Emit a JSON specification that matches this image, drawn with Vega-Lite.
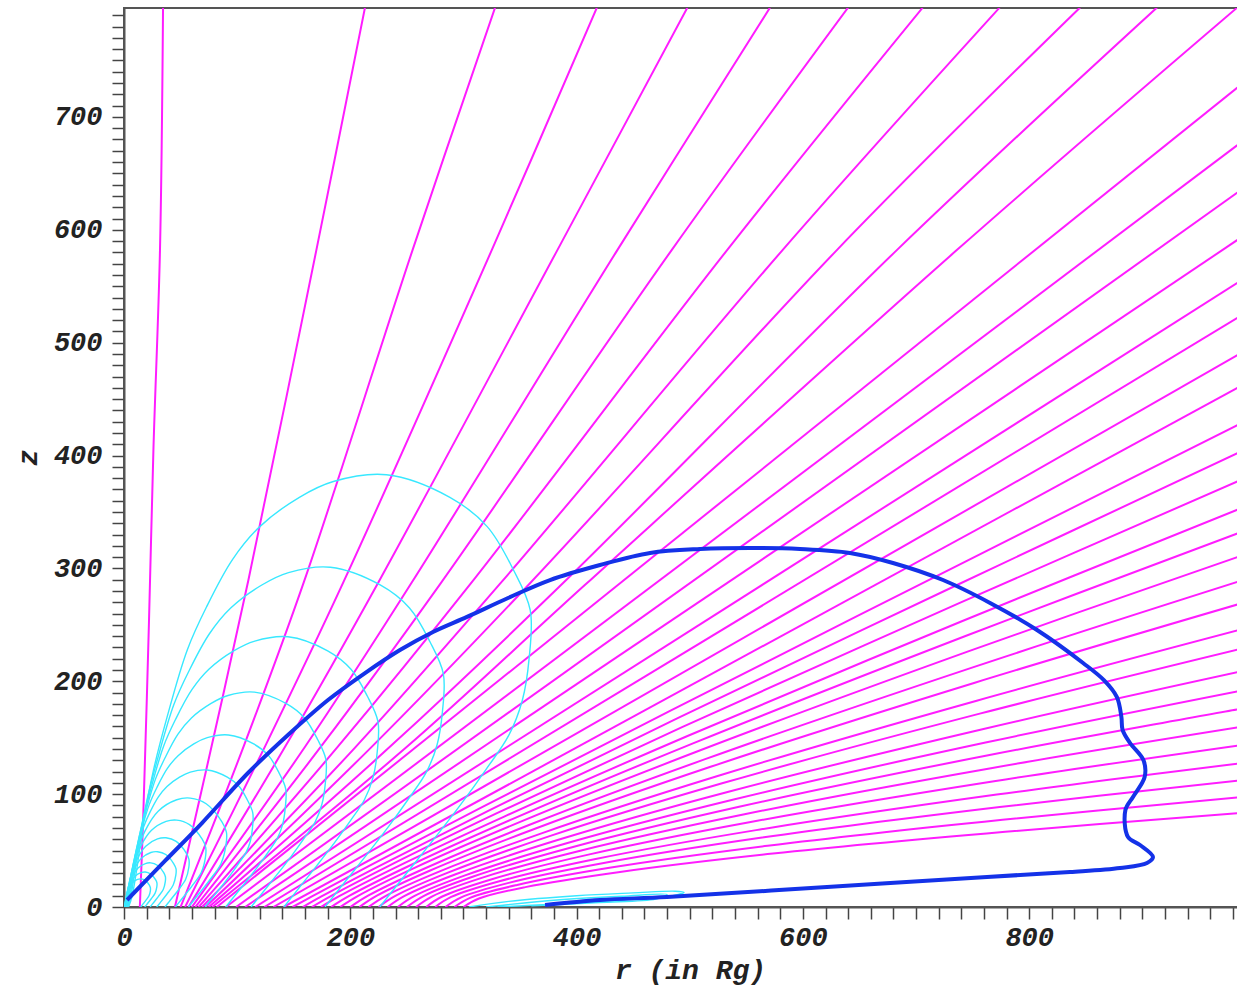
{
"$schema": "https://vega.github.io/schema/vega-lite/v6.json",
"autosize": {"type": "none"},
"padding": {"left": 124, "top": 8, "right": 0, "bottom": 79},
"width": 1115,
"height": 899,
"background": "white",
"config": {
  "view": {"stroke": "#555555", "strokeWidth": 2},
  "axis": {"domainColor": "#555555", "domainWidth": 2, "tickColor": "#444444", "tickWidth": 1.5, "grid": false,
    "labelFont": "Liberation Mono", "labelFontSize": 27, "labelFontWeight": "bold", "labelFontStyle": "italic", "labelColor": "#222222",
    "titleFont": "Liberation Mono", "titleFontSize": 28, "titleFontWeight": "bold", "titleFontStyle": "italic", "titleColor": "#222222"}
},
"datasets": {
"m": [
{"g":1,"i":0,"r":14,"z":0},{"g":1,"i":1,"r":17,"z":80},{"g":1,"i":2,"r":22,"z":250},{"g":1,"i":3,"r":26,"z":405},{"g":1,"i":4,"r":31.8,"z":582},{"g":1,"i":5,"r":34.5,"z":797},
{"g":2,"i":0,"r":45,"z":0},{"g":2,"i":1,"r":78,"z":145},{"g":2,"i":2,"r":110,"z":290},{"g":2,"i":3,"r":170,"z":582},{"g":2,"i":4,"r":213,"z":797},
{"g":3,"i":0,"r":50,"z":0},{"g":3,"i":1,"r":106,"z":143},{"g":3,"i":2,"r":159,"z":288},{"g":3,"i":3,"r":255,"z":582},{"g":3,"i":4,"r":328,"z":797},
{"g":4,"i":0,"r":54,"z":0},{"g":4,"i":1,"r":125,"z":143},{"g":4,"i":2,"r":194,"z":288},{"g":4,"i":3,"r":325,"z":582},{"g":4,"i":4,"r":418,"z":797},
{"g":5,"i":0,"r":57,"z":0},{"g":5,"i":1,"r":143,"z":143},{"g":5,"i":2,"r":225,"z":288},{"g":5,"i":3,"r":383,"z":582},{"g":5,"i":4,"r":498,"z":797},
{"g":6,"i":0,"r":60,"z":0},{"g":6,"i":1,"r":160,"z":142},{"g":6,"i":2,"r":254,"z":287},{"g":6,"i":3,"r":436,"z":582},{"g":6,"i":4,"r":571,"z":797},
{"g":7,"i":0,"r":63,"z":0},{"g":7,"i":1,"r":174,"z":142},{"g":7,"i":2,"r":280,"z":287},{"g":7,"i":3,"r":484,"z":582},{"g":7,"i":4,"r":640,"z":797},
{"g":8,"i":0,"r":66,"z":0},{"g":8,"i":1,"r":189,"z":142},{"g":8,"i":2,"r":306,"z":286},{"g":8,"i":3,"r":533,"z":582},{"g":8,"i":4,"r":706,"z":797},
{"g":9,"i":0,"r":69,"z":0},{"g":9,"i":1,"r":204,"z":141},{"g":9,"i":2,"r":332,"z":286},{"g":9,"i":3,"r":582,"z":582},{"g":9,"i":4,"r":774,"z":797},
{"g":10,"i":0,"r":72,"z":0},{"g":10,"i":1,"r":218,"z":141},{"g":10,"i":2,"r":358,"z":286},{"g":10,"i":3,"r":630,"z":582},{"g":10,"i":4,"r":845,"z":797},
{"g":11,"i":0,"r":75,"z":0},{"g":11,"i":1,"r":234,"z":141},{"g":11,"i":2,"r":386,"z":285},{"g":11,"i":3,"r":683,"z":582},{"g":11,"i":4,"r":913,"z":797},
{"g":12,"i":0,"r":78,"z":0},{"g":12,"i":1,"r":249,"z":141},{"g":12,"i":2,"r":407,"z":285},{"g":12,"i":3,"r":736,"z":582},{"g":12,"i":4,"r":984,"z":797},
{"g":13,"i":0,"r":82,"z":0},{"g":13,"i":1,"r":984,"z":726},
{"g":14,"i":0,"r":90,"z":0},{"g":14,"i":1,"r":984,"z":675},
{"g":15,"i":0,"r":99,"z":0},{"g":15,"i":1,"r":984,"z":633},
{"g":16,"i":0,"r":107,"z":0},{"g":16,"i":1,"r":984,"z":591},
{"g":17,"i":0,"r":116,"z":0},{"g":17,"i":1,"r":984,"z":553},
{"g":18,"i":0,"r":124,"z":0},{"g":18,"i":1,"r":984,"z":522},
{"g":19,"i":0,"r":132,"z":0},{"g":19,"i":1,"r":984,"z":489},
{"g":20,"i":0,"r":141,"z":0},{"g":20,"i":1,"r":984,"z":460},
{"g":21,"i":0,"r":149,"z":0},{"g":21,"i":1,"r":165.7,"z":9.2},{"g":21,"i":2,"r":215.8,"z":36},{"g":21,"i":3,"r":316,"z":88.2},{"g":21,"i":4,"r":483,"z":174},{"g":21,"i":5,"r":733.5,"z":300.9},{"g":21,"i":6,"r":984,"z":427},
{"g":22,"i":0,"r":158,"z":0},{"g":22,"i":1,"r":174.5,"z":9.4},{"g":22,"i":2,"r":224.1,"z":35.6},{"g":22,"i":3,"r":323.2,"z":85.8},{"g":22,"i":4,"r":488.4,"z":166.9},{"g":22,"i":5,"r":736.2,"z":285.3},{"g":22,"i":6,"r":984,"z":402},
{"g":23,"i":0,"r":166,"z":0},{"g":23,"i":1,"r":182.4,"z":9.5},{"g":23,"i":2,"r":231.4,"z":35.1},{"g":23,"i":3,"r":329.6,"z":83.1},{"g":23,"i":4,"r":493.2,"z":159.4},{"g":23,"i":5,"r":738.6,"z":269.4},{"g":23,"i":6,"r":984,"z":377},
{"g":24,"i":0,"r":174,"z":0},{"g":24,"i":1,"r":190.2,"z":9.6},{"g":24,"i":2,"r":238.8,"z":34.5},{"g":24,"i":3,"r":336,"z":80.1},{"g":24,"i":4,"r":498,"z":151.5},{"g":24,"i":5,"r":741,"z":253.4},{"g":24,"i":6,"r":984,"z":352},
{"g":25,"i":0,"r":183,"z":0},{"g":25,"i":1,"r":199,"z":9.8},{"g":25,"i":2,"r":247.1,"z":34.1},{"g":25,"i":3,"r":343.2,"z":77.8},{"g":25,"i":4,"r":503.4,"z":145.2},{"g":25,"i":5,"r":743.7,"z":240.1},{"g":25,"i":6,"r":984,"z":331},
{"g":26,"i":0,"r":191,"z":0},{"g":26,"i":1,"r":206.9,"z":9.9},{"g":26,"i":2,"r":254.4,"z":33.6},{"g":26,"i":3,"r":349.6,"z":75.2},{"g":26,"i":4,"r":508.2,"z":138.4},{"g":26,"i":5,"r":746.1,"z":226.5},{"g":26,"i":6,"r":984,"z":310},
{"g":27,"i":0,"r":200,"z":0},{"g":27,"i":1,"r":215.7,"z":10},{"g":27,"i":2,"r":262.7,"z":32.8},{"g":27,"i":3,"r":356.8,"z":72.2},{"g":27,"i":4,"r":513.6,"z":131},{"g":27,"i":5,"r":748.8,"z":211.9},{"g":27,"i":6,"r":984,"z":288},
{"g":28,"i":0,"r":208,"z":0},{"g":28,"i":1,"r":223.5,"z":10},{"g":28,"i":2,"r":270.1,"z":32.1},{"g":28,"i":3,"r":363.2,"z":69.3},{"g":28,"i":4,"r":518.4,"z":124.2},{"g":28,"i":5,"r":751.2,"z":198.5},{"g":28,"i":6,"r":984,"z":268},
{"g":29,"i":0,"r":216,"z":0},{"g":29,"i":1,"r":231.4,"z":9.9},{"g":29,"i":2,"r":277.4,"z":30.9},{"g":29,"i":3,"r":369.6,"z":65.5},{"g":29,"i":4,"r":523.2,"z":115.6},{"g":29,"i":5,"r":753.6,"z":182.8},{"g":29,"i":6,"r":984,"z":245},
{"g":30,"i":0,"r":225,"z":0},{"g":30,"i":1,"r":240.2,"z":10},{"g":30,"i":2,"r":285.7,"z":30.2},{"g":30,"i":3,"r":376.8,"z":63},{"g":30,"i":4,"r":528.6,"z":109.6},{"g":30,"i":5,"r":756.3,"z":171.3},{"g":30,"i":6,"r":984,"z":228},
{"g":31,"i":0,"r":233,"z":0},{"g":31,"i":1,"r":248,"z":9.8},{"g":31,"i":2,"r":293.1,"z":29},{"g":31,"i":3,"r":383.2,"z":59.3},{"g":31,"i":4,"r":533.4,"z":101.9},{"g":31,"i":5,"r":758.7,"z":157.5},{"g":31,"i":6,"r":984,"z":208},
{"g":32,"i":0,"r":242,"z":0},{"g":32,"i":1,"r":256.8,"z":9.8},{"g":32,"i":2,"r":301.4,"z":28},{"g":32,"i":3,"r":390.4,"z":56.2},{"g":32,"i":4,"r":538.8,"z":95.2},{"g":32,"i":5,"r":761.4,"z":145.7},{"g":32,"i":6,"r":984,"z":191},
{"g":33,"i":0,"r":250,"z":0},{"g":33,"i":1,"r":264.7,"z":9.7},{"g":33,"i":2,"r":308.7,"z":27},{"g":33,"i":3,"r":396.8,"z":53.2},{"g":33,"i":4,"r":543.6,"z":88.8},{"g":33,"i":5,"r":763.8,"z":134.4},{"g":33,"i":6,"r":984,"z":175},
{"g":34,"i":0,"r":258,"z":0},{"g":34,"i":1,"r":272.5,"z":9.5},{"g":34,"i":2,"r":316.1,"z":25.8},{"g":34,"i":3,"r":403.2,"z":49.9},{"g":34,"i":4,"r":548.4,"z":82.2},{"g":34,"i":5,"r":766.2,"z":123},{"g":34,"i":6,"r":984,"z":159},
{"g":35,"i":0,"r":267,"z":0},{"g":35,"i":1,"r":281.3,"z":9.3},{"g":35,"i":2,"r":324.4,"z":24.4},{"g":35,"i":3,"r":410.4,"z":46.4},{"g":35,"i":4,"r":553.8,"z":75.3},{"g":35,"i":5,"r":768.9,"z":111.4},{"g":35,"i":6,"r":984,"z":143},
{"g":36,"i":0,"r":275,"z":0},{"g":36,"i":1,"r":289.2,"z":8.9},{"g":36,"i":2,"r":331.7,"z":22.8},{"g":36,"i":3,"r":416.8,"z":42.5},{"g":36,"i":4,"r":558.6,"z":68.1},{"g":36,"i":5,"r":771.3,"z":99.6},{"g":36,"i":6,"r":984,"z":127},
{"g":37,"i":0,"r":284,"z":0},{"g":37,"i":1,"r":298,"z":8.6},{"g":37,"i":2,"r":340,"z":21.4},{"g":37,"i":3,"r":424,"z":39},{"g":37,"i":4,"r":564,"z":61.5},{"g":37,"i":5,"r":774,"z":88.6},{"g":37,"i":6,"r":984,"z":112},
{"g":38,"i":0,"r":292,"z":0},{"g":38,"i":1,"r":305.8,"z":8.1},{"g":38,"i":2,"r":347.4,"z":19.5},{"g":38,"i":3,"r":430.4,"z":34.9},{"g":38,"i":4,"r":568.8,"z":54.2},{"g":38,"i":5,"r":776.4,"z":77.3},{"g":38,"i":6,"r":984,"z":97},
{"g":39,"i":0,"r":300,"z":0},{"g":39,"i":1,"r":313.7,"z":7.5},{"g":39,"i":2,"r":354.7,"z":17.6},{"g":39,"i":3,"r":436.8,"z":30.8},{"g":39,"i":4,"r":573.6,"z":47.3},{"g":39,"i":5,"r":778.8,"z":66.6},{"g":39,"i":6,"r":984,"z":83}
],
"c": [
{"g":1,"i":0,"r":4,"z":0},{"g":1,"i":1,"r":7,"z":9},{"g":1,"i":2,"r":11.5,"z":35},{"g":1,"i":3,"r":17,"z":74},{"g":1,"i":4,"r":26,"z":121},{"g":1,"i":5,"r":38,"z":168},{"g":1,"i":6,"r":56,"z":228},{"g":1,"i":7,"r":73,"z":266},{"g":1,"i":8,"r":96,"z":308},{"g":1,"i":9,"r":120,"z":337},{"g":1,"i":10,"r":155,"z":363},{"g":1,"i":11,"r":185,"z":377},{"g":1,"i":12,"r":232,"z":383},{"g":1,"i":13,"r":288,"z":363},{"g":1,"i":14,"r":321,"z":337},{"g":1,"i":15,"r":344,"z":299},{"g":1,"i":16,"r":359,"z":263},{"g":1,"i":17,"r":358,"z":220},{"g":1,"i":18,"r":352,"z":183},{"g":1,"i":19,"r":340,"z":152},{"g":1,"i":20,"r":320,"z":122},{"g":1,"i":21,"r":297,"z":90},{"g":1,"i":22,"r":273,"z":59},{"g":1,"i":23,"r":249,"z":29},{"g":1,"i":24,"r":226,"z":0},
{"g":2,"i":0,"r":3.1,"z":0},{"g":2,"i":1,"r":5.5,"z":7.1},{"g":2,"i":2,"r":9,"z":27.5},{"g":2,"i":3,"r":13.4,"z":58.2},{"g":2,"i":4,"r":20.4,"z":95.1},{"g":2,"i":5,"r":29.9,"z":132},{"g":2,"i":6,"r":44,"z":179.2},{"g":2,"i":7,"r":57.4,"z":209.1},{"g":2,"i":8,"r":75.5,"z":242.1},{"g":2,"i":9,"r":94.3,"z":264.9},{"g":2,"i":10,"r":121.8,"z":285.3},{"g":2,"i":11,"r":145.4,"z":296.3},{"g":2,"i":12,"r":182.4,"z":301},{"g":2,"i":13,"r":226.4,"z":285.3},{"g":2,"i":14,"r":252.3,"z":264.9},{"g":2,"i":15,"r":270.4,"z":235},{"g":2,"i":16,"r":282.2,"z":206.7},{"g":2,"i":17,"r":281.4,"z":172.9},{"g":2,"i":18,"r":276.7,"z":143.8},{"g":2,"i":19,"r":267.2,"z":119.5},{"g":2,"i":20,"r":251.5,"z":95.9},{"g":2,"i":21,"r":233.4,"z":70.7},{"g":2,"i":22,"r":214.6,"z":46.4},{"g":2,"i":23,"r":195.7,"z":22.8},{"g":2,"i":24,"r":177.6,"z":0},
{"g":3,"i":0,"r":2.5,"z":0},{"g":3,"i":1,"r":4.4,"z":5.6},{"g":3,"i":2,"r":7.2,"z":21.9},{"g":3,"i":3,"r":10.6,"z":46.3},{"g":3,"i":4,"r":16.3,"z":75.6},{"g":3,"i":5,"r":23.8,"z":105},{"g":3,"i":6,"r":35,"z":142.5},{"g":3,"i":7,"r":45.6,"z":166.3},{"g":3,"i":8,"r":60,"z":192.5},{"g":3,"i":9,"r":75,"z":210.6},{"g":3,"i":10,"r":96.9,"z":226.9},{"g":3,"i":11,"r":115.6,"z":235.6},{"g":3,"i":12,"r":145,"z":239.4},{"g":3,"i":13,"r":180,"z":226.9},{"g":3,"i":14,"r":200.6,"z":210.6},{"g":3,"i":15,"r":215,"z":186.9},{"g":3,"i":16,"r":224.4,"z":164.4},{"g":3,"i":17,"r":223.8,"z":137.5},{"g":3,"i":18,"r":220,"z":114.4},{"g":3,"i":19,"r":212.5,"z":95},{"g":3,"i":20,"r":200,"z":76.3},{"g":3,"i":21,"r":185.6,"z":56.3},{"g":3,"i":22,"r":170.6,"z":36.9},{"g":3,"i":23,"r":155.6,"z":18.1},{"g":3,"i":24,"r":141.3,"z":0},
{"g":4,"i":0,"r":2,"z":0},{"g":4,"i":1,"r":3.5,"z":4.5},{"g":4,"i":2,"r":5.7,"z":17.4},{"g":4,"i":3,"r":8.4,"z":36.8},{"g":4,"i":4,"r":12.9,"z":60.1},{"g":4,"i":5,"r":18.9,"z":83.5},{"g":4,"i":6,"r":27.8,"z":113.3},{"g":4,"i":7,"r":36.3,"z":132.2},{"g":4,"i":8,"r":47.7,"z":153.1},{"g":4,"i":9,"r":59.6,"z":167.5},{"g":4,"i":10,"r":77,"z":180.4},{"g":4,"i":11,"r":91.9,"z":187.4},{"g":4,"i":12,"r":115.3,"z":190.4},{"g":4,"i":13,"r":143.1,"z":180.4},{"g":4,"i":14,"r":159.5,"z":167.5},{"g":4,"i":15,"r":171,"z":148.6},{"g":4,"i":16,"r":178.4,"z":130.7},{"g":4,"i":17,"r":177.9,"z":109.3},{"g":4,"i":18,"r":174.9,"z":91},{"g":4,"i":19,"r":169,"z":75.5},{"g":4,"i":20,"r":159,"z":60.6},{"g":4,"i":21,"r":147.6,"z":44.7},{"g":4,"i":22,"r":135.7,"z":29.3},{"g":4,"i":23,"r":123.8,"z":14.4},{"g":4,"i":24,"r":112.3,"z":0},
{"g":5,"i":0,"r":1.6,"z":0},{"g":5,"i":1,"r":2.8,"z":3.6},{"g":5,"i":2,"r":4.6,"z":13.9},{"g":5,"i":3,"r":6.8,"z":29.5},{"g":5,"i":4,"r":10.3,"z":48.2},{"g":5,"i":5,"r":15.1,"z":66.9},{"g":5,"i":6,"r":22.3,"z":90.7},{"g":5,"i":7,"r":29.1,"z":105.9},{"g":5,"i":8,"r":38.2,"z":122.6},{"g":5,"i":9,"r":47.8,"z":134.1},{"g":5,"i":10,"r":61.7,"z":144.5},{"g":5,"i":11,"r":73.6,"z":150},{"g":5,"i":12,"r":92.3,"z":152.4},{"g":5,"i":13,"r":114.6,"z":144.5},{"g":5,"i":14,"r":127.8,"z":134.1},{"g":5,"i":15,"r":136.9,"z":119},{"g":5,"i":16,"r":142.9,"z":104.7},{"g":5,"i":17,"r":142.5,"z":87.6},{"g":5,"i":18,"r":140.1,"z":72.8},{"g":5,"i":19,"r":135.3,"z":60.5},{"g":5,"i":20,"r":127.4,"z":48.6},{"g":5,"i":21,"r":118.2,"z":35.8},{"g":5,"i":22,"r":108.7,"z":23.5},{"g":5,"i":23,"r":99.1,"z":11.5},{"g":5,"i":24,"r":89.9,"z":0},
{"g":6,"i":0,"r":1.3,"z":0},{"g":6,"i":1,"r":2.2,"z":2.9},{"g":6,"i":2,"r":3.6,"z":11.1},{"g":6,"i":3,"r":5.4,"z":23.5},{"g":6,"i":4,"r":8.2,"z":38.4},{"g":6,"i":5,"r":12,"z":53.3},{"g":6,"i":6,"r":17.8,"z":72.3},{"g":6,"i":7,"r":23.1,"z":84.3},{"g":6,"i":8,"r":30.4,"z":97.6},{"g":6,"i":9,"r":38,"z":106.8},{"g":6,"i":10,"r":49.1,"z":115.1},{"g":6,"i":11,"r":58.6,"z":119.5},{"g":6,"i":12,"r":73.5,"z":121.4},{"g":6,"i":13,"r":91.3,"z":115.1},{"g":6,"i":14,"r":101.8,"z":106.8},{"g":6,"i":15,"r":109,"z":94.8},{"g":6,"i":16,"r":113.8,"z":83.4},{"g":6,"i":17,"r":113.5,"z":69.7},{"g":6,"i":18,"r":111.6,"z":58},{"g":6,"i":19,"r":107.8,"z":48.2},{"g":6,"i":20,"r":101.4,"z":38.7},{"g":6,"i":21,"r":94.1,"z":28.5},{"g":6,"i":22,"r":86.5,"z":18.7},{"g":6,"i":23,"r":78.9,"z":9.2},{"g":6,"i":24,"r":71.6,"z":0},
{"g":7,"i":0,"r":1,"z":0},{"g":7,"i":1,"r":2.9,"z":8.8},{"g":7,"i":2,"r":6.6,"z":30.5},{"g":7,"i":3,"r":9.6,"z":42.3},{"g":7,"i":4,"r":18.4,"z":67},{"g":7,"i":5,"r":30.2,"z":84.9},{"g":7,"i":6,"r":46.6,"z":95},{"g":7,"i":7,"r":58.5,"z":96.5},{"g":7,"i":8,"r":72.6,"z":91.5},{"g":7,"i":9,"r":86.7,"z":75.3},{"g":7,"i":10,"r":90.5,"z":66.3},{"g":7,"i":11,"r":90.2,"z":55.4},{"g":7,"i":12,"r":85.7,"z":38.3},{"g":7,"i":13,"r":74.8,"z":22.7},{"g":7,"i":14,"r":62.7,"z":7.3},{"g":7,"i":15,"r":57,"z":0},
{"g":8,"i":0,"r":0.8,"z":0},{"g":8,"i":1,"r":2.3,"z":7},{"g":8,"i":2,"r":5.2,"z":24.3},{"g":8,"i":3,"r":7.6,"z":33.8},{"g":8,"i":4,"r":14.7,"z":53.5},{"g":8,"i":5,"r":24.1,"z":67.7},{"g":8,"i":6,"r":37.2,"z":75.8},{"g":8,"i":7,"r":46.6,"z":77},{"g":8,"i":8,"r":57.9,"z":73},{"g":8,"i":9,"r":69.1,"z":60.1},{"g":8,"i":10,"r":72.2,"z":52.9},{"g":8,"i":11,"r":72,"z":44.2},{"g":8,"i":12,"r":68.3,"z":30.6},{"g":8,"i":13,"r":59.7,"z":18.1},{"g":8,"i":14,"r":50,"z":5.8},{"g":8,"i":15,"r":45.4,"z":0},
{"g":9,"i":0,"r":0.6,"z":0},{"g":9,"i":1,"r":1.8,"z":5.6},{"g":9,"i":2,"r":4.2,"z":19.4},{"g":9,"i":3,"r":6.1,"z":26.9},{"g":9,"i":4,"r":11.7,"z":42.6},{"g":9,"i":5,"r":19.2,"z":53.9},{"g":9,"i":6,"r":29.6,"z":60.3},{"g":9,"i":7,"r":37.1,"z":61.3},{"g":9,"i":8,"r":46.1,"z":58.1},{"g":9,"i":9,"r":55,"z":47.8},{"g":9,"i":10,"r":57.4,"z":42.1},{"g":9,"i":11,"r":57.3,"z":35.2},{"g":9,"i":12,"r":54.4,"z":24.3},{"g":9,"i":13,"r":47.5,"z":14.4},{"g":9,"i":14,"r":39.8,"z":4.6},{"g":9,"i":15,"r":36.2,"z":0},
{"g":10,"i":0,"r":0.5,"z":0},{"g":10,"i":1,"r":1.5,"z":4.5},{"g":10,"i":2,"r":3.3,"z":15.5},{"g":10,"i":3,"r":4.9,"z":21.5},{"g":10,"i":4,"r":9.3,"z":34},{"g":10,"i":5,"r":15.4,"z":43.1},{"g":10,"i":6,"r":23.7,"z":48.3},{"g":10,"i":7,"r":29.7,"z":49},{"g":10,"i":8,"r":36.9,"z":46.5},{"g":10,"i":9,"r":44,"z":38.3},{"g":10,"i":10,"r":46,"z":33.7},{"g":10,"i":11,"r":45.8,"z":28.2},{"g":10,"i":12,"r":43.5,"z":19.5},{"g":10,"i":13,"r":38,"z":11.5},{"g":10,"i":14,"r":31.9,"z":3.7},{"g":10,"i":15,"r":28.9,"z":0},
{"g":11,"i":0,"r":0.4,"z":0},{"g":11,"i":1,"r":1.2,"z":3.6},{"g":11,"i":2,"r":2.7,"z":12.3},{"g":11,"i":3,"r":3.9,"z":17.1},{"g":11,"i":4,"r":7.4,"z":27.1},{"g":11,"i":5,"r":12.2,"z":34.4},{"g":11,"i":6,"r":18.9,"z":38.5},{"g":11,"i":7,"r":23.7,"z":39.1},{"g":11,"i":8,"r":29.4,"z":37},{"g":11,"i":9,"r":35.1,"z":30.5},{"g":11,"i":10,"r":36.6,"z":26.8},{"g":11,"i":11,"r":36.5,"z":22.4},{"g":11,"i":12,"r":34.7,"z":15.5},{"g":11,"i":13,"r":30.3,"z":9.2},{"g":11,"i":14,"r":25.4,"z":3},{"g":11,"i":15,"r":23.1,"z":0},
{"g":12,"i":0,"r":0.3,"z":0},{"g":12,"i":1,"r":0.9,"z":2.8},{"g":12,"i":2,"r":2.1,"z":9.8},{"g":12,"i":3,"r":3.1,"z":13.6},{"g":12,"i":4,"r":5.9,"z":21.5},{"g":12,"i":5,"r":9.7,"z":27.3},{"g":12,"i":6,"r":15,"z":30.5},{"g":12,"i":7,"r":18.8,"z":31},{"g":12,"i":8,"r":23.3,"z":29.4},{"g":12,"i":9,"r":27.9,"z":24.2},{"g":12,"i":10,"r":29.1,"z":21.3},{"g":12,"i":11,"r":29,"z":17.8},{"g":12,"i":12,"r":27.5,"z":12.3},{"g":12,"i":13,"r":24.1,"z":7.3},{"g":12,"i":14,"r":20.2,"z":2.3},{"g":12,"i":15,"r":18.3,"z":0},
{"g":13,"i":0,"r":0.3,"z":0},{"g":13,"i":1,"r":0.7,"z":2.3},{"g":13,"i":2,"r":1.7,"z":7.9},{"g":13,"i":3,"r":2.5,"z":10.9},{"g":13,"i":4,"r":4.7,"z":17.3},{"g":13,"i":5,"r":7.8,"z":21.9},{"g":13,"i":6,"r":12,"z":24.5},{"g":13,"i":7,"r":15.1,"z":24.9},{"g":13,"i":8,"r":18.7,"z":23.6},{"g":13,"i":9,"r":22.4,"z":19.4},{"g":13,"i":10,"r":23.3,"z":17.1},{"g":13,"i":11,"r":23.3,"z":14.3},{"g":13,"i":12,"r":22.1,"z":9.9},{"g":13,"i":13,"r":19.3,"z":5.9},{"g":13,"i":14,"r":16.2,"z":1.9},{"g":13,"i":15,"r":14.7,"z":0},
{"g":21,"i":0,"r":305,"z":0},{"g":21,"i":1,"r":340,"z":5},{"g":21,"i":2,"r":400,"z":10},{"g":21,"i":3,"r":450,"z":12.5},{"g":21,"i":4,"r":487,"z":14},{"g":21,"i":5,"r":495,"z":13},{"g":21,"i":6,"r":480,"z":9},{"g":21,"i":7,"r":440,"z":6},{"g":21,"i":8,"r":400,"z":3.5},{"g":21,"i":9,"r":360,"z":1.5},{"g":21,"i":10,"r":330,"z":0},
{"g":22,"i":0,"r":320,"z":0},{"g":22,"i":1,"r":380,"z":6},{"g":22,"i":2,"r":440,"z":9.5},{"g":22,"i":3,"r":480,"z":11},{"g":22,"i":4,"r":470,"z":7},{"g":22,"i":5,"r":420,"z":4},{"g":22,"i":6,"r":360,"z":1}
],
"b": [
{"g":1,"i":0,"r":2.7,"z":6.2},{"g":1,"i":1,"r":36.2,"z":40.8},{"g":1,"i":2,"r":68.9,"z":74.4},{"g":1,"i":3,"r":109.6,"z":118.7},{"g":1,"i":4,"r":144.9,"z":152.4},{"g":1,"i":5,"r":180.3,"z":183.4},{"g":1,"i":6,"r":213,"z":207.3},{"g":1,"i":7,"r":243.9,"z":227.7},{"g":1,"i":8,"r":273.1,"z":243.7},{"g":1,"i":9,"r":303.1,"z":257},{"g":1,"i":10,"r":339.4,"z":273.8},{"g":1,"i":11,"r":376.5,"z":289.7},{"g":1,"i":12,"r":420.7,"z":303},{"g":1,"i":13,"r":464.9,"z":313.7},{"g":1,"i":14,"r":509.1,"z":317.2},{"g":1,"i":15,"r":553.2,"z":318.1},{"g":1,"i":16,"r":597.4,"z":317.2},{"g":1,"i":17,"r":641.6,"z":313.7},{"g":1,"i":18,"r":679.6,"z":304.8},{"g":1,"i":19,"r":723.8,"z":289.7},{"g":1,"i":20,"r":765.4,"z":269.4},{"g":1,"i":21,"r":806.9,"z":245.4},{"g":1,"i":22,"r":847.6,"z":216.2},{"g":1,"i":23,"r":866,"z":201},{"g":1,"i":24,"r":877.5,"z":186},{"g":1,"i":25,"r":881.5,"z":168},{"g":1,"i":26,"r":882.5,"z":157},{"g":1,"i":27,"r":889.1,"z":145.3},{"g":1,"i":28,"r":901,"z":130},{"g":1,"i":29,"r":902,"z":115.2},{"g":1,"i":30,"r":891.7,"z":97.5},{"g":1,"i":31,"r":885,"z":85.9},{"g":1,"i":32,"r":887.3,"z":62},{"g":1,"i":33,"r":897.9,"z":54.9},{"g":1,"i":34,"r":909.4,"z":44.3},{"g":1,"i":35,"r":904.1,"z":39},{"g":1,"i":36,"r":880.3,"z":34.6},{"g":1,"i":37,"r":836.1,"z":31},{"g":1,"i":38,"r":762.7,"z":26.6},{"g":1,"i":39,"r":621.3,"z":17.7},{"g":1,"i":40,"r":479.9,"z":8.9},{"g":1,"i":41,"r":420.7,"z":6.2},{"g":1,"i":42,"r":372.1,"z":1.8}
]
},
"encoding": {
  "x": {"field": "r", "type": "quantitative", "scale": {"domain": [0, 985.4], "nice": false, "zero": false},
    "axis": {"title": "r (in Rg)", "values": [0,20,40,60,80,100,120,140,160,180,200,220,240,260,280,300,320,340,360,380,400,420,440,460,480,500,520,540,560,580,600,620,640,660,680,700,720,740,760,780,800,820,840,860,880,900,920,940,960,980],
      "labelExpr": "datum.value % 200 === 0 ? datum.label : ''", "labelOverlap": false, "labelBound": false, "labelFlush": false,
      "tickSize": 12, "labelPadding": 5, "titleX": 566, "titleY": 63, "titleBaseline": "middle", "titleAlign": "center",
      "encode": {"ticks": {"update": {"y2": {"signal": "datum.value % 200 === 0 ? 12 : 6"}}}}}},
  "y": {"field": "z", "type": "quantitative", "scale": {"domain": [0, 796.5], "nice": false, "zero": false},
    "axis": {"title": "z", "values": [0,10,20,30,40,50,60,70,80,90,100,110,120,130,140,150,160,170,180,190,200,210,220,230,240,250,260,270,280,290,300,310,320,330,340,350,360,370,380,390,400,410,420,430,440,450,460,470,480,490,500,510,520,530,540,550,560,570,580,590,600,610,620,630,640,650,660,670,680,690,700,710,720,730,740,750,760,770,780,790],
      "labelExpr": "datum.value % 100 === 0 ? datum.label : ''", "labelOverlap": false, "labelBound": false, "labelFlush": false,
      "tickSize": 12, "labelPadding": 10, "titleX": -96, "titleY": 449, "titleAngle": -90, "titleBaseline": "middle", "titleAlign": "center",
      "encode": {"ticks": {"update": {"x2": {"signal": "datum.value % 100 === 0 ? -12 : -6"}}}}}},
  "detail": {"field": "g", "type": "nominal"},
  "order": {"field": "i", "type": "quantitative"}
},
"layer": [
  {"data": {"name": "m"}, "mark": {"type": "line", "color": "#ff1cff", "strokeWidth": 2, "interpolate": "catmull-rom", "clip": true}},
  {"data": {"name": "c"}, "mark": {"type": "line", "color": "#38e8ff", "strokeWidth": 1.4, "interpolate": "catmull-rom", "clip": true}},
  {"data": {"name": "b"}, "mark": {"type": "line", "color": "#1432e8", "strokeWidth": 4, "interpolate": "catmull-rom", "clip": true}}
]
}
